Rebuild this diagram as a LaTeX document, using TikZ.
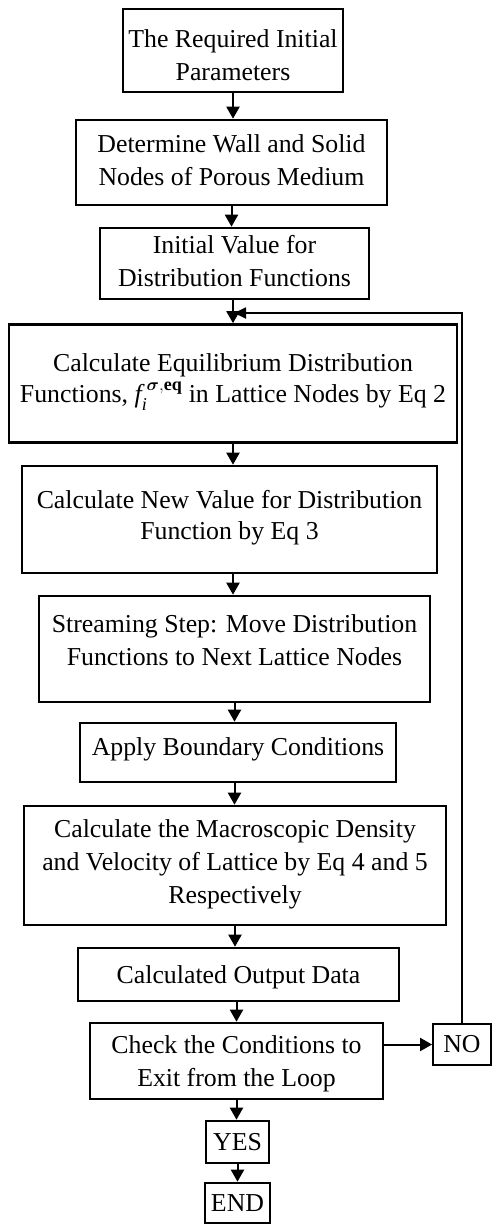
\documentclass[tikz,border=0pt]{standalone}
\usepackage{fontspec}
\setmainfont{Liberation Serif}
\usepackage{amsmath}
\usetikzlibrary{arrows.meta}
\begin{document}
\begin{tikzpicture}[x=1pt,y=-1pt,
  box/.style={draw, line width=2.6pt, inner sep=0pt},
  thinbox/.style={draw, line width=1.8pt, inner sep=0pt, font=\fontsize{25.8}{33}\selectfont},
  lbl/.style={align=center, font=\fontsize{25.8}{33}\selectfont, inner sep=0pt},
  lbltight/.style={align=center, font=\fontsize{25.8}{31}\selectfont, inner sep=0pt},
  arr/.style={line width=2pt, -{Triangle[length=12pt,width=13pt]}},
  loopline/.style={line width=1.8pt, -{Triangle[length=12pt,width=11pt]}}]
\useasboundingbox (0,0) rectangle (493,1224);
\fill[white] (0,0) rectangle (493,1224);

% boxes
\node[box, minimum width=220pt, minimum height=83pt]  (b1)  at (233,50.5) {};
\node[box, minimum width=311pt, minimum height=85pt]  (b2)  at (231.5,162.5) {};
\node[box, minimum width=269pt, minimum height=71pt]  (b3)  at (234.5,263.5) {};
\node[box, minimum width=448pt, minimum height=118pt] (b4)  at (233,383.5) {};
\node[box, minimum width=415pt, minimum height=107pt] (b5)  at (229.5,519.5) {};
\node[box, minimum width=391pt, minimum height=106pt] (b6)  at (234.5,649) {};
\node[box, minimum width=316pt, minimum height=59pt]  (b7)  at (238,752.5) {};
\node[box, minimum width=422pt, minimum height=119pt] (b8)  at (235,865.5) {};
\node[box, minimum width=321pt, minimum height=53pt]  (b9)  at (238.5,974.5) {};
\node[box, minimum width=293pt, minimum height=76pt]  (b10) at (236.5,1061) {};
\node[thinbox, minimum width=58pt, minimum height=41pt] (no) at (462,1044.5) {NO};
\node[box, minimum width=63pt, minimum height=42pt]  (yes) at (237.5,1142) {};
\node[box, minimum width=65pt, minimum height=40pt]  (end) at (237.5,1203) {};

% texts
\node[lbl] (t1) at (233,55) {The Required Initial\\Parameters};
\node[lbl] (t2) at (231.5,160.5) {Determine Wall and Solid\\Nodes of Porous Medium};
\node[lbl] (t3) at (234.5,261.5) {Initial Value for\\Distribution Functions};
\node[lbltight] (t4) at (233,382) {Calculate Equilibrium Distribution\\Functions, $\textit{f}_{\textit{i}}^{\;\boldsymbol{\sigma},\textbf{eq}}$ in Lattice Nodes by Eq 2};
\node[lbltight] (t5) at (229.5,517.5) {Calculate New Value for Distribution\\Function by Eq 3};
\node[lbl] (t6) at (234.5,640) {Streaming Step: Move Distribution\\Functions to Next Lattice Nodes};
\node[lbl] (t7) at (238,749.5) {Apply Boundary Conditions};
\node[lbl] (t8) at (235,864) {Calculate the Macroscopic Density\\and Velocity of Lattice by Eq 4 and 5\\Respectively};
\node[lbl] (t9) at (238.5,977) {Calculated Output Data};
\node[lbl] (t10) at (236.5,1064) {Check the Conditions to\\Exit from the Loop};
\node[lbl] (t11) at (237.5,1142) {YES};
\node[lbl] (t12) at (237.5,1203) {END};

\coordinate (j) at (233,313);

% arrows
\draw[arr] (b1.south) -- (b1.south |- b2.north);
\draw[arr] (b2.south) -- (b2.south |- b3.north);
\draw[arr] (b3.south -| j) -- (b4.north -| j);
\draw[arr] (b4.south -| j) -- (b5.north -| j);
\draw[arr] (b5.south -| b4.south) -- (b6.north -| b4.south);
\draw[arr] (b6.south) -- (b6.south |- b7.north);
\draw[arr] (b7.south -| b6.south) -- (b8.north -| b6.south);
\draw[arr] (b8.south) -- (b8.south |- b9.north);
\draw[arr] (b9.south -| b10.south) -- (b10.north);
\draw[arr] (b10.south) -- (b10.south |- yes.north);
\draw[arr] (yes.south) -- (end.north);
\draw[arr] (b10.east |- no.west) -- (no.west);
\draw[loopline] (no.north) |- ([xshift=1pt]j);
\end{tikzpicture}
\end{document}
